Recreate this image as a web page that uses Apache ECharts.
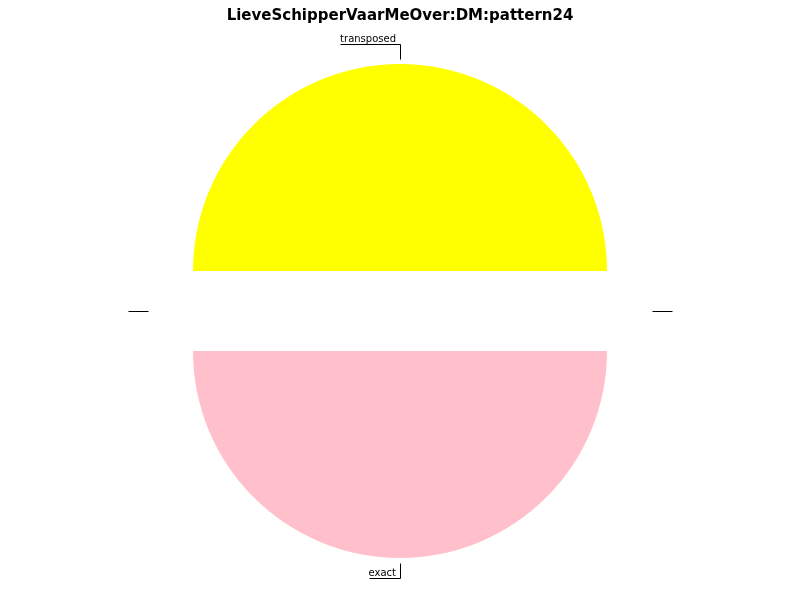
<!DOCTYPE html>
<html>
<head>
<meta charset="utf-8">
<script src="https://cdn.jsdelivr.net/npm/echarts@6/dist/echarts.min.js"></script>
<style>html,body{margin:0;padding:0;background:#fff}#c{width:800px;height:600px}</style>
</head>
<body>
<div id="c"></div>
<script>
var titleText = 'LieveSchipperVaarMeOver:DM:pattern24';
var categories = ['transposed', '', 'exact', ''];
var values = [1, 0, 1, 0];
var colors = ['#ffff00', '#1f77b4', '#ffc0cb', '#ff7f0e'];
var explode = [40, 40, 40, 40];

var CX = 400, CY = 311, R = 207, START = 180;

var chart = echarts.init(document.getElementById('c'), null, {renderer: 'canvas'});

function crisp(v) { return Math.round(v) + 0.5; }

function labelLayout(p) {
  var pts = p.labelLinePoints;
  if (!pts) return {};
  var a = pts[0], b = pts[1];
  var vx = b[0] - a[0], vy = b[1] - a[1];
  var len = Math.sqrt(vx * vx + vy * vy) || 1;
  vx /= len; vy /= len;
  var p0 = [crisp(a[0] + vx * 5), crisp(a[1] + vy * 5)];
  if (Math.abs(vy) > 0.5) {
    var w = p.labelRect.width;
    var bx = crisp(b[0]), by = crisp(b[1]);
    return {
      x: Math.round(b[0]) - 4, y: Math.round(b[1]) + 1, align: 'right', verticalAlign: 'bottom',
      labelLinePoints: [[bx, p0[1]], [bx, by], [crisp(b[0] - 4 - w), by]]
    };
  }
  return {labelLinePoints: [p0, [crisp(a[0] + vx * 25), p0[1]]]};
}

var total = values.reduce(function (s, v) { return s + v; }, 0);
var acc = 0;
var series = categories.map(function (cat, i) {
  var a0 = acc, a1 = acc + values[i] / total * 360;
  acc = a1;
  var mid = (START - (a0 + a1) / 2) * Math.PI / 180;
  var cx = CX + Math.cos(mid) * explode[i];
  var cy = CY - Math.sin(mid) * explode[i];
  return {
    type: 'pie',
    center: [cx, cy],
    radius: [0, R],
    startAngle: START,
    clockwise: true,
    avoidLabelOverlap: false,
    minShowLabelAngle: -1,
    silent: true,
    emphasis: {disabled: true},
    data: categories.map(function (c, j) {
      var vis = j === i;
      return {
        name: c, value: values[j],
        itemStyle: {color: vis ? colors[j] : 'rgba(0,0,0,0)'},
        label: {show: vis},
        labelLine: {show: vis}
      };
    }),
    label: {
      position: 'outside', formatter: '{b}',
      fontFamily: 'DejaVu Sans', fontSize: 10, color: '#000', lineHeight: 12
    },
    labelLine: {length: 20, length2: 0, lineStyle: {color: '#000', width: 1}},
    labelLayout: labelLayout
  };
});

chart.setOption({
  animation: false,
  backgroundColor: '#ffffff',
  title: {
    text: titleText, left: 'center', top: 4,
    textStyle: {fontFamily: 'DejaVu Sans', fontWeight: 'bold', fontSize: 15, color: '#000'}
  },
  series: series
});
</script>
</body>
</html>
